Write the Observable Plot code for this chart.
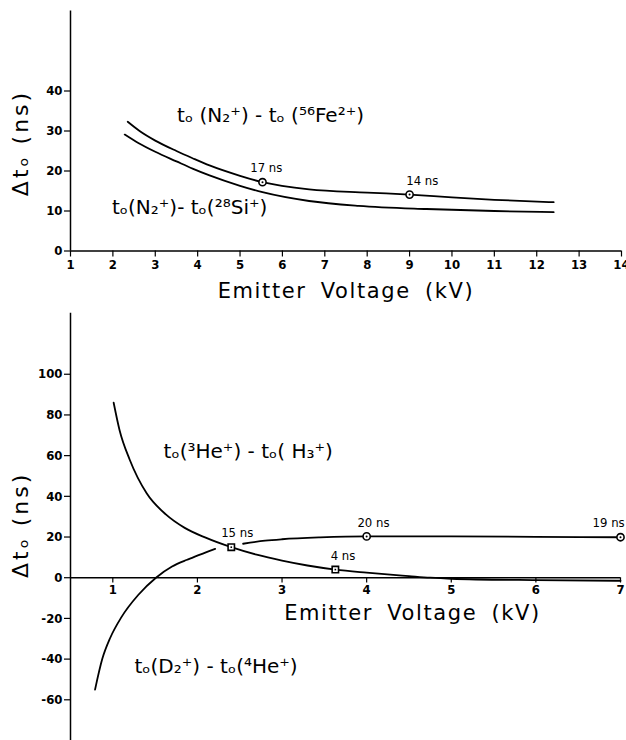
<!DOCTYPE html>
<html>
<head>
<meta charset="utf-8">
<script src="https://cdn.jsdelivr.net/npm/d3@7"></script>
<script src="https://cdn.jsdelivr.net/npm/@observablehq/plot@0.6"></script>
<style>
  html, body { margin: 0; padding: 0; background: #fff; }
  #chart { width: 626px; height: 740px; overflow: hidden; background: #fff; }
  #chart svg { display: block; }
</style>
</head>
<body>
<div id="chart"></div>
<script>
// ---------- Top panel data ----------
const topXTicks = [1,2,3,4,5,6,7,8,9,10,11,12,13,14];
const topYTicks = [0,10,20,30,40];

const feKV = [2.35, 2.63, 3.0, 3.5, 3.88, 4.28, 5.0, 5.53, 6.63, 8.0, 9.0, 10.0, 11.0, 12.4];
const feNs = [32.3, 30.0, 27.6, 25.0, 23.2, 21.4, 18.8, 17.2, 15.4, 14.6, 14.1, 13.4, 12.8, 12.2];

const siKV = [2.28, 2.6, 3.0, 3.5, 3.88, 4.28, 5.0, 5.53, 6.63, 7.8, 9.4, 11.0, 12.4];
const siNs = [29.1, 27.0, 24.8, 22.4, 20.6, 18.9, 16.3, 14.7, 12.5, 11.3, 10.5, 10.0, 9.7];

const topMarkKV = [5.53, 9.0];
const topMarkNs = [17.2, 14.1];
const topMarkText = ["17 ns", "14 ns"];
const topMarkLabelKV = [5.62, 9.3];

const topCurveText = ["tₒ (N₂⁺) - tₒ (⁵⁶Fe²⁺)", "tₒ(N₂⁺)- tₒ(²⁸Si⁺)"];
const topCurveKV = [5.72, 3.81];
const topCurveNs = [33.9, 10.9];

// ---------- Bottom panel data ----------
const botXTicks = [1,2,3,4,5,6,7];
const botYTicks = [-60,-40,-20,0,20,40,60,80,100];

// t0(3He+) - t0(H3+)
const heKV = [1.01, 1.08, 1.2, 1.4, 1.63, 1.85, 2.09, 2.4, 2.7, 3.0, 3.3, 3.63, 4.0, 4.5, 4.75, 5.0, 6.0, 7.0];
const heNs = [86, 72.5, 58, 41.5, 31, 24.5, 19.8, 15, 11.3, 8.4, 6.0, 4.0, 2.5, 0.8, 0, -0.5, -1.2, -1.5];

// t0(D2+) - t0(4He+), drawn in two pieces (gap at the 15 ns marker)
const dKVa = [0.79, 0.875, 0.97, 1.1, 1.3, 1.51, 1.7, 1.87, 1.95, 2.1, 2.21];
const dNsa = [-55, -40, -29.5, -19.5, -8.5, 0, 5.5, 8.7, 10, 12.5, 14.2];
const dKVb = [2.54, 2.8, 3.0, 3.45, 4.0, 5.0, 6.0, 7.0];
const dNsb = [16.7, 18.2, 18.9, 19.8, 20.3, 20.3, 20.1, 19.9];

const botCircleKV = [4.0, 7.0];
const botCircleNs = [20.3, 19.9];
const botCircleText = ["20 ns", "19 ns"];
const botCircleLabelKV = [4.08, 6.86];

const botSquareKV = [2.4, 3.63];
const botSquareNs = [15, 4.0];
const botSquareText = ["15 ns", "4 ns"];
const botSquareLabelKV = [2.47, 3.72];

const botCurveText = ["tₒ(³He⁺) - tₒ( H₃⁺)", "tₒ(D₂⁺) - tₒ(⁴He⁺)"];
const botCurveKV = [2.60, 2.22];
const botCurveNs = [62, -43.6];

const xTitle = "Emitter Voltage (kV)";
const yTitle = "Δtₒ (ns)";

// ---------- helpers ----------
const rows = (xs, ys, extra = {}) => xs.map((x, i) => {
  const o = {kv: x, ns: ys[i]};
  for (const k in extra) o[k] = extra[k][i];
  return o;
});
const FONT = "'DejaVu Sans Condensed', 'DejaVu Sans', sans-serif";
const TITLE_FONT = "'DejaVu Sans', sans-serif";
const TICK = {fontSize: 13, fontWeight: "bold"};

// ---------- Top plot ----------
const feRows = rows(feKV, feNs);
const siRows = rows(siKV, siNs);
const topMarks = rows(topMarkKV, topMarkNs, {label: topMarkText, lx: topMarkLabelKV});
const topLabels = rows(topCurveKV, topCurveNs, {text: topCurveText});

const topPlot = Plot.plot({
  width: 626, height: 310,
  marginLeft: 70, marginRight: 5, marginTop: 10.5, marginBottom: 59.5,
  x: {domain: [1, 14]},
  y: {domain: [0, 60]},
  style: {fontFamily: FONT, background: "white", color: "black"},
  marks: [
    Plot.axisY({ticks: topYTicks, tickSize: 6, tickPadding: 2, label: null, tickFormat: d => String(d), strokeWidth: 1.2, ...TICK}),
    Plot.axisX({ticks: topXTicks, tickSize: 6, tickPadding: 3, label: null, tickFormat: d => String(d), strokeWidth: 1.2, ...TICK}),
    Plot.ruleX([1], {strokeWidth: 1.5}),
    Plot.ruleY([0], {strokeWidth: 1.5}),
    Plot.line(feRows, {x: "kv", y: "ns", curve: "monotone-x", strokeWidth: 1.8}),
    Plot.line(siRows, {x: "kv", y: "ns", curve: "monotone-x", strokeWidth: 1.8}),
    Plot.dot(topMarks, {x: "kv", y: "ns", r: 3.6, fill: "white", stroke: "black", strokeWidth: 1.6}),
    Plot.dot(topMarks, {x: "kv", y: "ns", r: 1, fill: "black"}),
    Plot.text(topMarks, {x: "lx", y: "ns", text: "label", dy: -14, fontSize: 13}),
    Plot.text(topLabels, {x: "kv", y: "ns", text: "text", fontSize: 20, fontFamily: TITLE_FONT}),
    Plot.text([xTitle], {text: d => d, frameAnchor: "bottom", textAnchor: "middle", lineAnchor: "middle", dy: 40, fontSize: 21, fontFamily: TITLE_FONT}),
    Plot.text([yTitle], {text: d => d, frameAnchor: "left", textAnchor: "middle", lineAnchor: "middle", rotate: -90, dx: -50, dy: 12, fontSize: 22, fontFamily: TITLE_FONT})
  ]
});

// ---------- Bottom plot ----------
const heRows = rows(heKV, heNs);
const dRows = rows(dKVa, dNsa, {seg: dKVa.map(() => "a")})
  .concat(rows(dKVb, dNsb, {seg: dKVb.map(() => "b")}));
const circles = rows(botCircleKV, botCircleNs, {label: botCircleText, lx: botCircleLabelKV});
const squares = rows(botSquareKV, botSquareNs, {label: botSquareText, lx: botSquareLabelKV});
const botLabels = rows(botCurveKV, botCurveNs, {text: botCurveText});

const botPlot = Plot.plot({
  width: 626, height: 430,
  marginLeft: 70, marginRight: 6, marginTop: 2.7, marginBottom: 0,
  x: {domain: [0.5, 7], axis: null},
  y: {domain: [-80, 130]},
  style: {fontFamily: FONT, background: "white", color: "black"},
  marks: [
    Plot.axisY({ticks: botYTicks, tickSize: 6, tickPadding: 2, label: null, tickFormat: d => String(d), strokeWidth: 1.2, ...TICK}),
    Plot.ruleX([0.5], {strokeWidth: 1.5}),
    Plot.ruleY([0], {strokeWidth: 1.5}),
    Plot.ruleX(botXTicks, {x: d => d, y1: 0, y2: -2.6, strokeWidth: 1.2}),
    Plot.text(botXTicks, {x: d => d, y: 0, text: d => String(d), dy: 12, ...TICK}),
    Plot.line(heRows, {x: "kv", y: "ns", curve: "monotone-x", strokeWidth: 1.8}),
    Plot.line(dRows, {x: "kv", y: "ns", z: "seg", curve: "monotone-x", strokeWidth: 1.8}),
    Plot.dot(circles, {x: "kv", y: "ns", r: 3.6, fill: "white", stroke: "black", strokeWidth: 1.6}),
    Plot.dot(circles, {x: "kv", y: "ns", r: 1, fill: "black"}),
    Plot.dot(squares, {x: "kv", y: "ns", symbol: "square", r: 3.6, fill: "white", stroke: "black", strokeWidth: 1.6}),
    Plot.dot(squares, {x: "kv", y: "ns", symbol: "square", r: 0.9, fill: "black"}),
    Plot.text(circles, {x: "lx", y: "ns", text: "label", dy: -14, fontSize: 13}),
    Plot.text(squares, {x: "lx", y: "ns", text: "label", dy: -14, fontSize: 13}),
    Plot.text(botLabels, {x: "kv", y: "ns", text: "text", fontSize: 20, fontFamily: TITLE_FONT}),
    Plot.text([xTitle], {text: d => d, frameAnchor: "bottom", textAnchor: "middle", lineAnchor: "middle", dx: 67, dy: -127, fontSize: 21, fontFamily: TITLE_FONT}),
    Plot.text([yTitle], {text: d => d, frameAnchor: "left", textAnchor: "middle", lineAnchor: "middle", rotate: -90, dx: -50, dy: -2, fontSize: 22, fontFamily: TITLE_FONT})
  ]
});

const chart = document.getElementById("chart");
chart.appendChild(topPlot);
chart.appendChild(botPlot);

// spacing tweaks for the axis titles (matched by their text)
d3.selectAll("#chart text").each(function () {
  const t = this.textContent;
  if (t === xTitle) d3.select(this).attr("letter-spacing", "1.6px").attr("word-spacing", "6px");
  if (t === yTitle) d3.select(this).attr("letter-spacing", "3px");
});
</script>
</body>
</html>
